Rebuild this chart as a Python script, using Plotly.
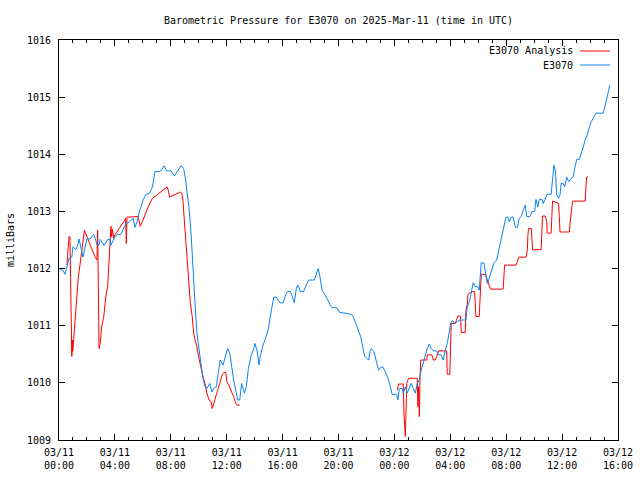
import numpy as np
import pandas as pd
import plotly.graph_objects as go

# Times are minutes since 2025-03-11 00:00 UTC
obs_minutes = [0, 17, 26, 34, 43, 55, 60, 72, 83, 86, 94, 103, 112, 120, 134, 149, 158, 163, 172, 177,
               186, 194, 209, 220, 223, 229, 240, 252, 266, 280, 289, 295, 304, 318, 326, 338, 343, 352, 361, 372,
               389, 401, 409, 412, 435, 452, 461, 481, 495, 510, 524, 535, 544, 550, 558, 567, 572, 578, 584, 592,
               601, 610, 618, 627, 635, 647, 656, 664, 675, 684, 692, 704, 716, 724, 733, 741, 750, 759, 767, 776,
               784, 796, 804, 813, 824, 836, 841, 850, 859, 864, 876, 887, 899, 907, 916, 922, 933, 950, 962, 973,
               982, 993, 1002, 1010, 1019, 1025, 1036, 1050, 1065, 1073, 1096, 1105, 1113, 1119, 1125, 1130, 1142, 1156, 1171, 1193,
               1205, 1228, 1255, 1264, 1275, 1287, 1295, 1304, 1312, 1321, 1330, 1335, 1341, 1352, 1361, 1372, 1381, 1390, 1398, 1407,
               1415, 1421, 1430, 1450, 1455, 1461, 1473, 1478, 1487, 1495, 1504, 1512, 1521, 1530, 1538, 1547, 1555, 1564, 1573, 1581,
               1590, 1598, 1607, 1621, 1630, 1641, 1650, 1658, 1667, 1676, 1682, 1690, 1699, 1710, 1721, 1747, 1753, 1764, 1778, 1786,
               1798, 1804, 1813, 1824, 1833, 1839, 1847, 1859, 1867, 1879, 1888, 1896, 1905, 1913, 1919, 1928, 1933, 1942, 1950, 1959,
               1968, 1976, 1985, 1993, 2002, 2008, 2022, 2031, 2042, 2048, 2056, 2062, 2074, 2079, 2088, 2096, 2113, 2119, 2125, 2131,
               2137, 2145, 2151, 2156, 2165, 2171, 2180, 2188, 2199, 2208, 2217, 2223, 2234, 2242, 2251, 2259, 2268, 2277, 2285, 2297,
               2305, 2337, 2343, 2351, 2360, 2365]
obs_values = [1012.0, 1011.97, 1011.9, 1012.06, 1012.18, 1012.2, 1012.38, 1012.33, 1012.44, 1012.52, 1012.38, 1012.2, 1012.38, 1012.52, 1012.52, 1012.6, 1012.5, 1012.41, 1012.41, 1012.51,
              1012.45, 1012.4, 1012.51, 1012.51, 1012.41, 1012.47, 1012.56, 1012.6, 1012.6, 1012.73, 1012.8, 1012.8, 1012.82, 1012.88, 1012.72, 1012.85, 1012.97, 1013.08, 1013.2, 1013.29,
              1013.32, 1013.43, 1013.61, 1013.7, 1013.7, 1013.8, 1013.71, 1013.71, 1013.62, 1013.72, 1013.8, 1013.75, 1013.55, 1013.32, 1013.08, 1012.62, 1012.2, 1011.74, 1011.39, 1010.87,
              1010.57, 1010.31, 1010.08, 1009.93, 1009.9, 1009.99, 1009.84, 1009.9, 1009.93, 1010.17, 1010.4, 1010.31, 1010.46, 1010.6, 1010.52, 1010.28, 1010.05, 1009.87, 1009.7, 1009.7,
              1009.99, 1009.82, 1009.93, 1010.25, 1010.46, 1010.6, 1010.69, 1010.57, 1010.31, 1010.46, 1010.66, 1010.78, 1010.95, 1011.16, 1011.33, 1011.5, 1011.5, 1011.4, 1011.4, 1011.54,
              1011.6, 1011.6, 1011.51, 1011.4, 1011.65, 1011.71, 1011.6, 1011.6, 1011.74, 1011.8, 1011.8, 1011.92, 1012.0, 1011.89, 1011.74, 1011.62, 1011.54, 1011.42, 1011.32, 1011.31,
              1011.23, 1011.22, 1011.2, 1011.15, 1011.04, 1010.92, 1010.81, 1010.63, 1010.47, 1010.43, 1010.4, 1010.55, 1010.6, 1010.55, 1010.4, 1010.22, 1010.27, 1010.28, 1010.22, 1010.14,
              1010.05, 1009.96, 1009.8, 1009.8, 1009.7, 1009.9, 1009.9, 1009.82, 1009.93, 1009.82, 1009.9, 1009.99, 1009.9, 1009.82, 1009.99, 1010.05, 1010.22, 1010.35, 1010.47, 1010.6,
              1010.68, 1010.6, 1010.56, 1010.56, 1010.49, 1010.49, 1010.4, 1010.57, 1010.69, 1010.87, 1011.05, 1011.09, 1011.04, 1011.07, 1011.1, 1011.1, 1011.33, 1011.45, 1011.75, 1011.69,
              1011.68, 1011.62, 1012.1, 1012.1, 1011.92, 1011.74, 1011.83, 1011.97, 1012.1, 1012.15, 1012.32, 1012.51, 1012.65, 1012.82, 1012.9, 1012.9, 1012.82, 1012.9, 1012.9, 1012.72,
              1012.72, 1012.88, 1012.91, 1013.02, 1013.11, 1012.91, 1012.91, 1013.0, 1013.0, 1013.21, 1013.08, 1013.21, 1013.21, 1013.14, 1013.23, 1013.3, 1013.3, 1013.52, 1013.81, 1013.72,
              1013.29, 1013.23, 1013.29, 1013.49, 1013.49, 1013.43, 1013.6, 1013.52, 1013.58, 1013.62, 1013.81, 1013.91, 1013.91, 1014.0, 1014.13, 1014.25, 1014.34, 1014.48, 1014.57, 1014.66,
              1014.72, 1014.72, 1014.83, 1015.01, 1015.12, 1015.21]

ana_minutes = [34, 40, 43, 47, 49, 52, 55, 57, 59, 66, 72, 77, 83, 89, 94, 100, 106, 109, 155, 163,
               166, 169, 172, 177, 183, 192, 197, 203, 209, 215, 220, 223, 226, 229, 235, 240, 283, 286, 289, 292,
               340, 349, 358, 369, 383, 401, 412, 464, 469, 475, 521, 527, 532, 541, 550, 555, 564, 572, 578, 584,
               592, 601, 610, 618, 627, 635, 644, 653, 658, 670, 681, 692, 701, 707, 716, 721, 733, 741, 750, 759,
               764, 776, 1100,
               1452, 1455, 1458, 1478, 1481, 1487, 1490, 1493, 1498, 1501, 1538, 1541, 1544, 1547, 1550, 1553, 1579, 1581, 1601, 1607,
               1616, 1624, 1630, 1664, 1667, 1678, 1682, 1684, 1701, 1707, 1713, 1724, 1727, 1744, 1747, 1753, 1756, 1770, 1784, 1787,
               1790, 1804, 1807, 1810, 1813, 1830, 1836, 1842, 1847, 1853, 1907, 1910, 1913, 1962, 1968, 1974, 2005, 2011, 2013, 2016,
               2028, 2031, 2033, 2070, 2073, 2076, 2088, 2094, 2096, 2113, 2116, 2119, 2134, 2145, 2148, 2151, 2191, 2194, 2197, 2202,
               2205, 2259, 2262, 2265, 2271]
ana_values = [1012.06, 1012.41, 1012.56, 1012.56, 1012.18, 1011.5, 1010.46, 1010.75, 1010.55, 1010.92, 1011.27, 1011.45, 1011.86, 1012.03, 1012.2, 1012.38, 1012.65, 1012.67, 1012.2, 1012.15,
              1012.67, 1011.1, 1010.6, 1010.69, 1010.98, 1011.16, 1011.39, 1011.57, 1011.68, 1012.09, 1012.38, 1012.74, 1012.56, 1012.69, 1012.53, 1012.59, 1012.85, 1012.88, 1012.44, 1012.9,
              1012.91, 1012.74, 1012.82, 1012.94, 1013.08, 1013.23, 1013.26, 1013.43, 1013.37, 1013.25, 1013.34, 1013.32, 1013.2, 1012.68, 1012.15, 1011.86, 1011.39, 1011.16, 1010.87, 1010.76,
              1010.63, 1010.43, 1010.25, 1010.11, 1009.99, 1009.82, 1009.7, 1009.67, 1009.55, 1009.7, 1009.87, 1010.02, 1010.15, 1010.18, 1010.18, 1010.02, 1009.93, 1009.84, 1009.76, 1009.64,
              1009.61, 1009.61, None,
              1009.87, 1009.92, 1009.98, 1009.98, 1009.47, 1009.06, 1009.87, 1009.99, 1010.05, 1010.08, 1010.08, 1009.58, 1009.93, 1009.41, 1010.11, 1010.4, 1010.4, 1010.49, 1010.49, 1010.4,
              1010.4, 1010.49, 1010.56, 1010.56, 1010.15, 1010.15, 1010.98, 1011.04, 1011.04, 1011.13, 1011.17, 1011.17, 1010.88, 1010.88, 1011.27, 1011.38, 1011.55, 1011.59, 1011.6, 1011.39,
              1011.16, 1011.16, 1011.36, 1011.68, 1011.9, 1011.9, 1011.83, 1011.77, 1011.71, 1011.64, 1011.64, 1011.85, 1012.06, 1012.06, 1012.13, 1012.2, 1012.2, 1012.33, 1012.58, 1012.7,
              1012.7, 1012.51, 1012.33, 1012.33, 1012.62, 1012.92, 1012.92, 1012.82, 1012.62, 1012.62, 1012.91, 1013.18, 1013.16, 1013.14, 1012.91, 1012.64, 1012.64, 1012.73, 1012.91, 1013.08,
              1013.18, 1013.18, 1013.4, 1013.6, 1013.6]

start = pd.Timestamp("2025-03-11 00:00")
obs_t = start + pd.to_timedelta(obs_minutes, unit="min")
ana_t = start + pd.to_timedelta(ana_minutes, unit="min")

FONT = "DejaVu Sans Mono"
RED = "#ff0000"
BLUE = "#0a84f0"

fig = go.Figure()
fig.add_trace(go.Scatter(x=ana_t, y=ana_values, mode="lines", name="E3070 Analysis",
                         line=dict(color=RED, width=1), connectgaps=False, showlegend=False))
fig.add_trace(go.Scatter(x=obs_t, y=obs_values, mode="lines", name="E3070",
                         line=dict(color=BLUE, width=1), showlegend=False))

fig.update_layout(
    width=640, height=480,
    margin=dict(l=59, r=22, t=40, b=40, autoexpand=False),
    paper_bgcolor="white", plot_bgcolor="white",
    font=dict(family=FONT, size=10, color="black"),
    title=dict(text="Barometric Pressure for E3070 on 2025-Mar-11 (time in UTC)",
               x=0.5, xref="paper", xanchor="center", y=0.958, yanchor="middle",
               font=dict(family=FONT, size=10, color="black")),
)
fig.update_xaxes(
    range=[pd.Timestamp("2025-03-11 00:00"), pd.Timestamp("2025-03-12 16:00")],
    tickformat="%m/%d<br>%H:%M", dtick=4 * 3600 * 1000, tick0=pd.Timestamp("2025-03-11 00:00"),
    ticks="inside", ticklen=6, tickcolor="black", showgrid=False, zeroline=False,
    showline=True, linecolor="black", linewidth=1, mirror="ticks", automargin=False,
    ticklabelstandoff=3,
    minor=dict(dtick=3600 * 1000, ticks="inside", ticklen=3, tickcolor="black", showgrid=False),
    tickfont=dict(family=FONT, size=10, color="black"),
)
fig.update_yaxes(
    range=[1009, 1016], dtick=1, tick0=1009,
    ticks="inside", ticklen=6, tickcolor="black", showgrid=False, zeroline=False,
    showline=True, linecolor="black", linewidth=1, mirror="ticks", automargin=False,
    ticklabelstandoff=5,
    tickfont=dict(family=FONT, size=10, color="black"),
    title=dict(text="milliBars", font=dict(family=FONT, size=10, color="black"), standoff=10),
)

# Legend drawn gnuplot-style (text right-aligned, sample line on the right)
legend_items = [("E3070 Analysis", RED, 0.9725), ("E3070", BLUE, 0.9375)]
for label, color, yy in legend_items:
    fig.add_annotation(x=0.923, y=yy, xref="paper", yref="paper", text=label, showarrow=False,
                       xanchor="right", yanchor="middle", font=dict(family=FONT, size=10, color="black"))
    fig.add_shape(type="line", xref="paper", yref="paper", x0=0.932, x1=0.986, y0=yy, y1=yy,
                  line=dict(color=color, width=1))

fig.write_html("out.html", config={"displayModeBar": False},
               post_script="document.body.style.margin='0';document.body.style.overflow='hidden';")
